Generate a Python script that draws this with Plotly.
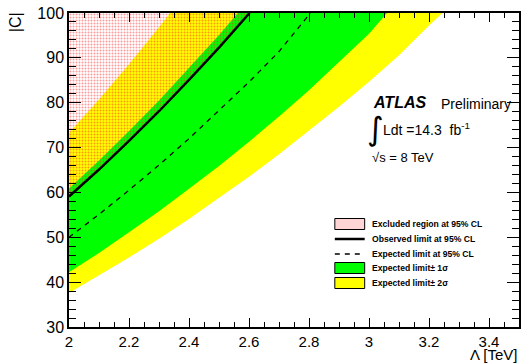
import plotly.graph_objects as go

# Lambda [TeV] grids and |C| limits
x_m2 = [2.0, 2.1, 2.2, 2.3, 2.4, 2.5, 2.6, 2.7, 2.8, 2.9, 3.0, 3.1, 3.2, 3.245]
y_m2 = [37.6, 41.5, 45.5, 49.7, 54.1, 58.8, 63.5, 68.5, 73.7, 79.1, 84.7, 90.6, 97.2, 100.0]

x_m1 = [2.0, 2.1, 2.2, 2.3, 2.4, 2.5, 2.6, 2.7, 2.8, 2.9, 3.0, 3.06]
y_m1 = [42.2, 46.5, 51.1, 55.8, 60.8, 65.9, 71.3, 76.9, 82.8, 89.0, 95.4, 100.0]

x_exp = [2.0, 2.1, 2.2, 2.3, 2.4, 2.5, 2.6, 2.7, 2.805]
y_exp = [50.0, 55.1, 60.5, 66.1, 72.0, 78.2, 84.6, 91.4, 100.0]

x_p1 = [2.0, 2.1, 2.2, 2.3, 2.4, 2.5, 2.563]
y_p1 = [60.9, 67.1, 73.7, 80.5, 87.7, 95.1, 100.0]

x_obs = [2.0, 2.1, 2.2, 2.3, 2.4, 2.5, 2.602]
y_obs = [59.1, 65.1, 71.5, 78.1, 85.1, 92.3, 100.0]

x_p2 = [2.0, 2.1, 2.2, 2.3, 2.337]
y_p2 = [73.3, 80.7, 88.6, 96.8, 100.0]

X_RANGE = [2.0, 3.5]
Y_RANGE = [30, 100]

legend_labels = [
    "Excluded region at 95% CL",
    "Observed limit at 95% CL",
    "Expected limit at 95% CL",
    "Expected limit\u00b1 1\u03c3",
    "Expected limit\u00b1 2\u03c3",
]

FONT = "Liberation Sans, Arial, Helvetica, sans-serif"

fig = go.Figure()

# +-2 sigma band (yellow)
fig.add_trace(go.Scatter(
    x=x_m2 + x_p2[::-1], y=y_m2 + y_p2[::-1],
    fill="toself", fillcolor="#FFFF00", mode="lines",
    line=dict(color="rgba(0,0,0,0)", width=0),
    name=legend_labels[4], showlegend=False, hoverinfo="skip"))

# +-1 sigma band (green)
fig.add_trace(go.Scatter(
    x=x_m1 + x_p1[::-1], y=y_m1 + y_p1[::-1],
    fill="toself", fillcolor="#00FF00", mode="lines",
    line=dict(color="rgba(0,0,0,0)", width=0),
    name=legend_labels[3], showlegend=False, hoverinfo="skip"))

# Excluded region: above observed limit
fig.add_trace(go.Scatter(
    x=x_obs + [X_RANGE[0]], y=y_obs + [Y_RANGE[1]],
    fill="toself", fillcolor="rgba(0,0,0,0)", mode="lines",
    fillpattern=dict(shape=".", fgcolor="rgba(255,30,30,0.9)", size=3, solidity=0.35),
    line=dict(color="rgba(0,0,0,0)", width=0),
    name=legend_labels[0], showlegend=False, hoverinfo="skip"))

# Expected limit (dashed)
fig.add_trace(go.Scatter(
    x=x_exp, y=y_exp, mode="lines",
    line=dict(color="black", width=1.3, dash="5px,5px"),
    name=legend_labels[2], showlegend=False))

# Observed limit (solid)
fig.add_trace(go.Scatter(
    x=x_obs, y=y_obs, mode="lines",
    line=dict(color="black", width=2.5),
    name=legend_labels[1], showlegend=False))

axis_common = dict(
    showline=True, linecolor="black", linewidth=1.5, mirror="ticks",
    ticks="inside", tickcolor="black", tickwidth=1.2,
    showgrid=False, zeroline=False,
)

fig.update_xaxes(range=X_RANGE, tick0=2, dtick=0.2, ticklen=9,
                 tickfont=dict(family=FONT, size=15, color="black"),
                 minor=dict(dtick=0.05, ticklen=5, ticks="inside", tickcolor="black", showgrid=False),
                 **axis_common)
fig.update_yaxes(range=Y_RANGE, tick0=30, dtick=10, ticklen=12,
                 tickfont=dict(family=FONT, size=16, color="black"),
                 minor=dict(dtick=2, ticklen=7, ticks="inside", tickcolor="black", showgrid=False),
                 **axis_common)

W, H = 525, 364
L, R, T, B = 69, 4, 13, 37
pw, ph = W - L - R, H - T - B


def px(xp):
    return (xp - L) / pw


def py(yp):
    return 1 - (yp - T) / ph


annotations = [
    dict(text="|C|", x=px(15), y=py(22), xref="paper", yref="paper", textangle=-90,
         showarrow=False, font=dict(family=FONT, size=16, color="black"),
         xanchor="center", yanchor="middle"),
    dict(text="\u039b [TeV]", x=px(521), y=py(364), xref="paper", yref="paper",
         showarrow=False, font=dict(family=FONT, size=15, color="black"),
         xanchor="right", yanchor="bottom", borderpad=0),
    dict(text="<b><i>ATLAS</i></b>", x=px(372), y=py(103), xref="paper", yref="paper",
         showarrow=False, font=dict(family=FONT, size=16, color="black"),
         xanchor="left", yanchor="middle"),
    dict(text="Preliminary", x=px(441), y=py(104), xref="paper", yref="paper",
         showarrow=False, font=dict(family=FONT, size=14, color="black"),
         xanchor="left", yanchor="middle"),
    dict(text="\u222b", x=px(366), y=py(129), xref="paper", yref="paper",
         showarrow=False, font=dict(family="DejaVu Sans", size=32, color="black"),
         xanchor="left", yanchor="middle"),
    dict(text="Ldt =14.3  fb<sup>-1</sup>", x=px(382), y=py(129), xref="paper", yref="paper",
         showarrow=False, font=dict(family=FONT, size=14, color="black"),
         xanchor="left", yanchor="middle"),
    dict(text="\u221as = 8 TeV", x=px(371), y=py(157), xref="paper", yref="paper",
         showarrow=False, font=dict(family=FONT, size=13, color="black"),
         xanchor="left", yanchor="middle"),
]

# Manual legend (ROOT-style TLegend)
leg_y = [224, 239, 254, 268, 283]
sw_x0, sw_x1, txt_x = 336, 366, 371
shapes = []
shapes.append(dict(type="rect", xref="paper", yref="paper",
                   x0=px(sw_x0), x1=px(sw_x1), y0=py(leg_y[0] - 5.5), y1=py(leg_y[0] + 5.5),
                   fillcolor="rgb(255,212,212)", line=dict(color="black", width=1)))
shapes.append(dict(type="line", xref="paper", yref="paper",
                   x0=px(sw_x0), x1=px(sw_x1), y0=py(leg_y[1]), y1=py(leg_y[1]),
                   line=dict(color="black", width=2.5)))
shapes.append(dict(type="line", xref="paper", yref="paper",
                   x0=px(sw_x0), x1=px(sw_x1), y0=py(leg_y[2]), y1=py(leg_y[2]),
                   line=dict(color="black", width=1.3, dash="5px,5px")))
shapes.append(dict(type="rect", xref="paper", yref="paper",
                   x0=px(sw_x0), x1=px(sw_x1), y0=py(leg_y[3] - 5.5), y1=py(leg_y[3] + 5.5),
                   fillcolor="#00FF00", line=dict(color="black", width=1)))
shapes.append(dict(type="rect", xref="paper", yref="paper",
                   x0=px(sw_x0), x1=px(sw_x1), y0=py(leg_y[4] - 5.5), y1=py(leg_y[4] + 5.5),
                   fillcolor="#FFFF00", line=dict(color="black", width=1)))

for lbl, yy in zip(legend_labels, leg_y):
    annotations.append(dict(text="<b>%s</b>" % lbl, x=px(txt_x), y=py(yy), xref="paper", yref="paper",
                            showarrow=False, font=dict(family=FONT, size=8.6, color="black"),
                            xanchor="left", yanchor="middle"))

fig.update_layout(
    width=W, height=H,
    margin=dict(l=L, r=R, t=T, b=B),
    plot_bgcolor="white", paper_bgcolor="white",
    showlegend=False,
    annotations=annotations,
    shapes=shapes,
)

fig.write_html("out.html")
